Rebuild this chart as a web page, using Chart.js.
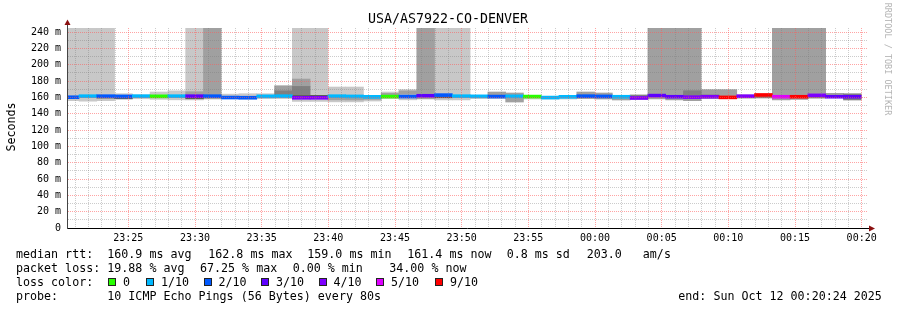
<!DOCTYPE html>
<html>
<head>
<meta charset="utf-8">
<script src="https://cdn.jsdelivr.net/npm/chart.js@4.4.1/dist/chart.umd.min.js"></script>
<style>
html,body{margin:0;padding:0;background:#fff;}
#wrap{position:relative;width:897px;height:310px;overflow:hidden;font-family:"DejaVu Sans Mono",monospace;color:#000;}
#c{position:absolute;left:0;top:0;}
.t{position:absolute;white-space:pre;font-size:11.66px;line-height:14px;}
.box{position:absolute;width:6px;height:6px;border:1px solid #222;}
</style>
</head>
<body>
<div id="wrap"><canvas id="c" width="897" height="310"></canvas></div>
<script>
// ---------------- data ----------------
const chartTitle = 'USA/AS7922-CO-DENVER';
const rangeStart = '23:20:24';
const rangeEnd = '00:20:24';
const firstBinStart = '23:19:58';
const stepSeconds = 80;

const xTickLabels = ['23:25','23:30','23:35','23:40','23:45','23:50','23:55','00:00','00:05','00:10','00:15','00:20'];
const yTickValues = [0,20,40,60,80,100,120,140,160,180,200,220,240];
const yTickLabels = ['0','20 m','40 m','60 m','80 m','100 m','120 m','140 m','160 m','180 m','200 m','220 m','240 m'];

const lossColors = ['#26ff00','#00b8ff','#0059ff','#5e00ff','#7e00ff','#dd00ff','#ff0000'];
const lossLabels = ['0','1/10','2/10','3/10','4/10','5/10','9/10'];

// median rtt per 80 s bin (ms)
const medianRtt = [160.2,161.5,161.5,161.2,161.5,161.3,161.5,161.5,161.5,159.8,
                   159.6,161.3,161.5,159.5,159.5,161.5,161.2,160.7,161.0,161.0,
                   162.0,162.8,161.5,161.3,161.0,161.3,161.0,159.8,160.7,161.5,
                   161.2,160.8,159.3,162.2,160.8,160.3,160.8,160.0,161.5,163.0,
                   160.8,160.8,162.5,160.8,160.8];
// loss colour index per bin (index into lossColors)
const lossLevel = [2,1,2,2,1,0,1,3,2,2,
                   2,1,1,4,4,1,1,1,0,2,
                   3,2,1,1,2,1,0,1,1,2,
                   2,1,4,3,3,4,4,6,4,6,
                   5,6,4,3,3];
// smoke bands [low, high] in ms, four shades
const smokeLight = [[156,250],[155.5,250],[156,250],[157.5,164.5],[158.3,163],[157.6,166.6],[157,168],[157,250],null,[159,164],
                    [158,164.5],[158.5,164.5],[158.5,163],[155,250],[155.2,250],[154.5,172.7],[154.5,172.7],[155.5,160],[158.4,166.6],[157,169.5],
                    null,[157,250],[156.8,250],[158.4,162],null,null,[158,162],[158,161],[158,162],null,
                    null,null,null,null,null,null,null,null,[158.5,163],null,
                    null,null,null,null,null];
const smokeMid = [null,null,null,null,null,null,null,[163,167],[158,250],null,
                  null,null,[168,174.3],[173.5,182.5],null,[157,160],[156.8,160],[157.5,160],[163,165],[164,168],
                  [158,250],null,null,null,[159,166.6],[154.3,165.4],null,null,null,[158.5,166.6],
                  [158,165.4],[156.8,162],[157.5,160],[158,250],[156.8,250],[156,250],[158.5,169.5],[162,169.5],null,null,
                  [156.8,250],[157.5,250],[159,250],[162,165],null];
const smokeDark = [null,null,[158.8,160],null,null,null,null,null,null,null,
                   null,null,[163,168],[162,173.5],null,null,null,null,null,null,
                   null,null,null,null,null,null,null,null,null,null,
                   null,null,[161,163],null,null,[162,168.2],[162,163],null,null,[159.3,161.5],
                   null,null,[159.5,161],null,[156.8,164.5]];
const smokeCore = [null,null,null,[158.5,159.8],null,null,null,[158.3,159.8],null,null,
                   null,null,null,[160.5,162.3],[160.5,162.5],null,null,null,null,null,
                   null,[159.5,161],null,null,null,null,null,null,null,null,
                   null,null,null,null,null,null,null,null,null,null,
                   null,null,null,null,null];

const medianStatsText = ['160.9 ms avg','162.8 ms max','159.0 ms min','161.4 ms now','0.8 ms sd','203.0   am/s'];
const lossStatsText = ['19.88 % avg','67.25 % max','0.00 % min','34.00 % now'];
const probeText = '10 ICMP Echo Pings (56 Bytes) every 80s';
const endText = 'end: Sun Oct 12 00:20:24 2025';

// ---------------- layout / helpers ----------------
const CANVAS_W = 897, PLOT_LEFT = 67, PLOT_RIGHT = 867;
function toSec(hms){
  const p = hms.split(':').map(Number);
  let s = p[0]*3600 + p[1]*60 + (p[2]||0);
  if (s > 12*3600) s -= 86400;
  return s;
}
function fmt(v){
  const s = ((v % 86400) + 86400) % 86400;
  const h = Math.floor(s/3600), m = Math.floor((s%3600)/60);
  return String(h).padStart(2,'0') + ':' + String(m).padStart(2,'0');
}
const xMin = toSec(rangeStart), xMax = toSec(rangeEnd);
const binCenters = medianRtt.map((_, i) => toSec(firstBinStart) + stepSeconds*(i + 0.5));
const barPx = (PLOT_RIGHT - PLOT_LEFT) * stepSeconds / (xMax - xMin);

const MEDIAN_HALF = 1.8; // half line thickness in ms
function band(pairs){ return pairs.map((p,i) => ({x: binCenters[i], y: p ? p : null})); }

const common = {grouped:false, barThickness:barPx, clip:0, borderWidth:0};
const datasets = [
  Object.assign({label:'median', data: medianRtt.map((m,i)=>({x:binCenters[i], y:[m-MEDIAN_HALF, m+MEDIAN_HALF]})),
     backgroundColor: lossLevel.map(l => lossColors[l])}, common),
  Object.assign({label:'core', data: band(smokeCore), backgroundColor:'#5a5a5a'}, common),
  Object.assign({label:'dark', data: band(smokeDark), backgroundColor:'#808080'}, common),
  Object.assign({label:'mid', data: band(smokeMid), backgroundColor:'#a0a0a0'}, common),
  Object.assign({label:'light', data: band(smokeLight), backgroundColor:'#c8c8c8'}, common)
];

const MAJOR = 'rgba(255,90,90,0.55)';
const MINOR = 'rgba(120,120,120,0.38)';

const arrowPlugin = {
  id:'arrows',
  afterDraw(chart){
    const {ctx, chartArea:a} = chart;
    ctx.save();
    ctx.lineWidth = 1;
    ctx.strokeStyle = '#444';
    ctx.beginPath(); ctx.moveTo(a.left+0.5, a.top); ctx.lineTo(a.left+0.5, a.top-3); ctx.stroke();
    ctx.strokeStyle = '#000';
    ctx.beginPath(); ctx.moveTo(a.right, a.bottom+0.5); ctx.lineTo(a.right+3, a.bottom+0.5); ctx.stroke();
    ctx.fillStyle = '#8b1010';
    ctx.beginPath(); ctx.moveTo(a.left-2.5, a.top-3); ctx.lineTo(a.left+3.5, a.top-3); ctx.lineTo(a.left+0.5, a.top-8.5); ctx.closePath(); ctx.fill();
    ctx.beginPath(); ctx.moveTo(a.right+2, a.bottom-2.5); ctx.lineTo(a.right+2, a.bottom+3.5); ctx.lineTo(a.right+8, a.bottom+0.5); ctx.closePath(); ctx.fill();
    ctx.restore();
  }
};

new Chart(document.getElementById('c'), {
  type:'bar',
  data:{datasets},
  plugins:[arrowPlugin],
  options:{
    responsive:false, animation:false, devicePixelRatio:1, events:[],
    layout:{autoPadding:false, padding:{left:0, right:CANVAS_W-PLOT_RIGHT, top:28, bottom:62}},
    plugins:{legend:{display:false}, tooltip:{enabled:false}, title:{display:false}},
    scales:{
      x:{
        type:'linear', position:'bottom', min:xMin, max:xMax, offset:false,
        afterBuildTicks(s){
          const t=[]; for(let v=Math.ceil(xMin/60)*60; v<=xMax; v+=60) t.push({value:v});
          s.ticks=t;
        },
        afterFit(s){ s.height=20; s.paddingLeft=0; s.paddingRight=0; },
        grid:{z:1, offset:false, drawTicks:false, lineWidth:1, color:(c)=> (c.tick && c.tick.value % 300 === 0) ? MAJOR : MINOR},
        border:{z:2, display:true, color:'#000', width:1, dash:[1,1]},
        ticks:{autoSkip:false, maxRotation:0, minRotation:0, padding:4, color:'#000',
          font:{family:'"DejaVu Sans Mono", monospace', size:10},
          callback:(v)=>{ const l = fmt(v); return (v % 300 === 0 && xTickLabels.includes(l)) ? l : ''; }}
      },
      y:{
        type:'linear', position:'left', min:0, max:245, stacked:false,
        afterBuildTicks(s){
          const t=[]; for(let v=0; v<=240; v+=10) t.push({value:v});
          s.ticks=t;
        },
        afterFit(s){ s.width=PLOT_LEFT; s.paddingTop=0; s.paddingBottom=0; },
        grid:{z:1, drawTicks:false, lineWidth:1, color:(c)=> (c.tick && c.tick.value % 20 === 0) ? MAJOR : MINOR},
        border:{z:2, display:true, color:'#444', width:1, dash:[1,1]},
        ticks:{autoSkip:false, padding:6, color:'#000',
          font:{family:'"DejaVu Sans Mono", monospace', size:10},
          callback:(v)=>{ const i = yTickValues.indexOf(v); return i >= 0 ? yTickLabels[i] : ''; }}
      }
    }
  }
});

// ---------------- text (HTML) ----------------
const wrap = document.getElementById('wrap');
function addText(txt, x, baseline, opts){
  const d = document.createElement('div');
  d.className = 't';
  d.textContent = txt;
  d.style.left = x + 'px';
  d.style.top = (baseline - 11.03) + 'px';
  if (opts) Object.assign(d.style, opts);
  wrap.appendChild(d);
  return d;
}
const tt = document.createElement('div');
tt.className='t'; tt.textContent = chartTitle;
Object.assign(tt.style,{left:'0px', width:'896px', textAlign:'center', fontSize:'13.3px', lineHeight:'16px', top:(24-12.6)+'px'});
wrap.appendChild(tt);
const yt = document.createElement('div');
yt.className='t'; yt.textContent='Seconds';
Object.assign(yt.style,{left:(11.2-50)+'px', top:(127-7)+'px', width:'100px', textAlign:'center', transform:'rotate(-90deg)'});
wrap.appendChild(yt);
const ct = document.createElement('div');
ct.className='t'; ct.textContent='RRDTOOL / TOBI OETIKER';
Object.assign(ct.style,{left:(888-70)+'px', top:(59-5)+'px', width:'140px', textAlign:'center', fontSize:'8.5px', lineHeight:'10px', color:'#b4b4b4', transform:'rotate(90deg)'});
wrap.appendChild(ct);

const rows = [258.3, 272.1, 285.9, 299.7];
const medX = [107.3, 208.3, 307.3, 407.3, 506.7, 586.7];
const lossX = [107.3, 200, 292.7, 389.3];
addText('median rtt:', 16, rows[0]);
medianStatsText.forEach((s,i)=>addText(s, medX[i], rows[0]));
addText('packet loss:', 16, rows[1]);
lossStatsText.forEach((s,i)=>addText(s, lossX[i], rows[1]));
addText('loss color:', 16, rows[2]);
const boxX = [108, 146, 203.5, 261, 318.5, 376, 435];
lossLabels.forEach((l,i)=>{
  const b = document.createElement('div');
  b.className='box';
  b.style.left = boxX[i]+'px';
  b.style.top = (rows[2]-8)+'px';
  b.style.background = lossColors[i];
  wrap.appendChild(b);
  addText(l, boxX[i]+15, rows[2]);
});
addText('probe:', 16, rows[3]);
addText(probeText, 107.3, rows[3]);
addText(endText, 678.3, rows[3]);
</script>
</body>
</html>
